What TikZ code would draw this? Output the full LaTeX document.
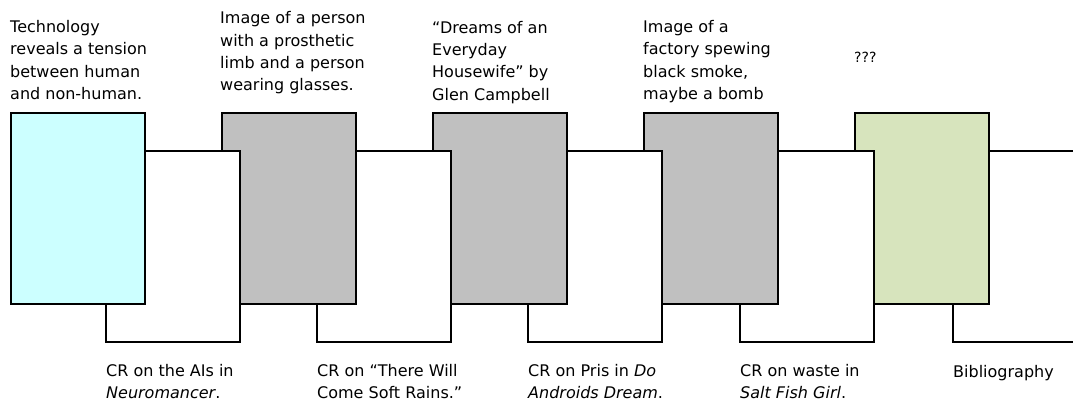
\documentclass[tikz,border=0pt]{standalone}
\usepackage{fontspec}
\setmainfont{DejaVu Sans}
\definecolor{cardcyan}{HTML}{CCFFFF}
\definecolor{cardgray}{HTML}{C0C0C0}
\definecolor{cardgreen}{HTML}{D7E4BD}
\tikzset{
	card/.style={draw, line width=2.2pt, anchor=north west, inner sep=0pt, outer sep=0pt, minimum width=134pt, minimum height=191pt},
	crcard/.style={card, fill=white},
	note/.style={anchor=base west, align=left, inner sep=0pt, font=\fontsize{16}{22.3}\selectfont},
}
\begin{document}
\begin{tikzpicture}[x=1pt,y=-1pt]
			\clip (0,0) rectangle (1073,402);
			\node[crcard] (cr5) at (953,151) {};
			\node[card, fill=cardgreen] (img5) at (855,113) {};
			\node[crcard] (cr4) at (740,151) {};
			\node[card, fill=cardgray] (img4) at (644,113) {};
			\node[crcard] (cr3) at (528,151) {};
			\node[card, fill=cardgray] (img3) at (433,113) {};
			\node[crcard] (cr2) at (317,151) {};
			\node[card, fill=cardgray] (img2) at (222,113) {};
			\node[crcard] (cr1) at (106,151) {};
			\node[card, fill=cardcyan] (img1) at (11,113) {};
			\node[note] (t1) at (10,99.5) {Technology\\reveals a tension\\between human\\and non-human.};
			\node[note] (t2) at (220,90.7) {Image of a person\\with a prosthetic\\limb and a person\\wearing glasses.};
			\node[note] (t3) at (432,100) {“Dreams of an\\Everyday\\Housewife” by\\Glen Campbell};
			\node[note] (t4) at (643,99.5) {Image of a\\factory spewing\\black smoke,\\maybe a bomb};
			\node[note, font=\fontsize{14}{16}\selectfont] (t5) at (854,62) {???};
			\node[note] (c1) at (106,398.5) {CR on the AIs in\\\textit{Neuromancer}.};
			\node[note] (c2) at (317,398.5) {CR on “There Will\\Come Soft Rains.”};
			\node[note] (c3) at (528,398.5) {CR on Pris in \textit{Do}\\\textit{Androids Dream}.};
			\node[note] (c4) at (740,398.5) {CR on waste in\\\textit{Salt Fish Girl}.};
			\node[note] (c5) at (953,377.5) {Bibliography};
		\end{tikzpicture}
\end{document}
